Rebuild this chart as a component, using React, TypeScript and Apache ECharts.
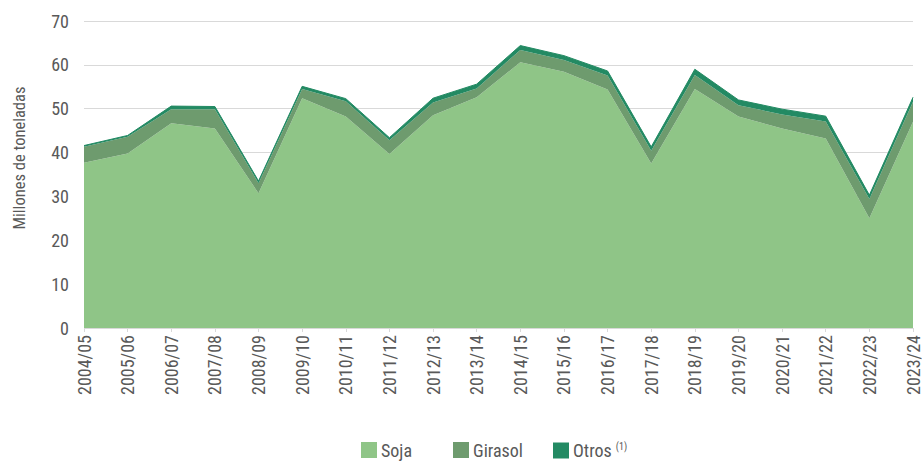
import React, { useEffect, useRef } from "react";
import * as echarts from "echarts";

const categories = [
  "2004/05", "2005/06", "2006/07", "2007/08", "2008/09", "2009/10", "2010/11",
  "2011/12", "2012/13", "2013/14", "2014/15", "2015/16", "2016/17", "2017/18",
  "2018/19", "2019/20", "2020/21", "2021/22", "2022/23", "2023/24",
];
const soja = [37.7, 39.8, 46.7, 45.5, 30.7, 52.4, 48.2, 39.7, 48.5, 52.6, 60.6, 58.4, 54.4, 37.5, 54.5, 48.2, 45.5, 43.2, 25.0, 47.0];
const girasol = [3.6, 3.8, 3.2, 4.4, 2.3, 2.1, 3.5, 3.1, 2.9, 2.0, 2.8, 2.7, 3.2, 2.9, 3.2, 2.6, 3.2, 3.9, 4.4, 4.6];
const otros = [0.3, 0.3, 0.7, 0.6, 0.5, 0.6, 0.6, 0.6, 1.0, 1.0, 1.0, 1.0, 1.0, 0.9, 1.3, 1.2, 1.2, 1.2, 0.9, 1.0];
const yTicks = { min: 0, max: 70, interval: 10 };
const seriesNames = ["Soja", "Girasol", "Otros"];

const FONT = "'Liberation Sans Narrow', 'Roboto Condensed', Roboto, sans-serif";
const TEXT = "#595959";

export default function App() {
  const ref = useRef<HTMLDivElement>(null);
  useEffect(() => {
    if (!ref.current) return;
    const chart = echarts.init(ref.current, null, { renderer: "svg" });
    const area = (name: string, data: number[], color: string, lw: number) => ({
      name,
      type: "line",
      stack: "total",
      data,
      symbol: "none",
      lineStyle: { width: lw, color },
      itemStyle: { color },
      areaStyle: { color, opacity: 1 },
    });
    const legendLefts = [361, 453, 553];
    const legends = seriesNames.map((n, i) => ({
      top: 441,
      left: legendLefts[i],
      padding: 0,
      itemWidth: 16,
      itemHeight: 16,
      itemGap: 0,
      icon: "rect",
      textStyle: {
        fontFamily: FONT,
        fontSize: 18,
        color: TEXT,
        padding: [0, 0, 0, -1],
        rich: { sup: { fontSize: 10, color: TEXT, fontFamily: FONT, verticalAlign: "top", padding: [0, 0, 9, 0] } },
      },
      formatter: (s: string) => (s === "Otros" ? "Otros {sup|(1)}" : s),
      data: [n],
    }));
    chart.setOption({
      animation: false,
      textStyle: { fontFamily: FONT },
      grid: { left: 84, right: 5, top: 21, bottom: 135 },
      legend: legends,
      xAxis: {
        type: "category",
        data: categories,
        boundaryGap: false,
        axisLine: { show: false },
        axisTick: { show: true, alignWithLabel: true, length: 4, lineStyle: { color: "#d9d9d9" } },
        axisLabel: { rotate: 90, margin: 7, fontSize: 18, color: TEXT, fontFamily: FONT, interval: 0 },
      },
      yAxis: {
        type: "value",
        min: yTicks.min,
        max: yTicks.max,
        interval: yTicks.interval,
        axisLine: { show: false },
        axisTick: { show: false },
        splitLine: { lineStyle: { color: "#d9d9d9", width: 1 } },
        axisLabel: { fontSize: 18, color: TEXT, fontFamily: FONT, margin: 15, padding: [0, 0, 6, 0] },
      },
      graphic: [
        {
          type: "text",
          x: 19,
          y: 158,
          rotation: Math.PI / 2,
          style: {
            text: "Millones de toneladas",
            fill: TEXT,
            fontSize: 16.5,
            fontFamily: FONT,
            align: "center",
            verticalAlign: "middle",
          },
        },
      ],
      series: [
        area(seriesNames[0], soja, "#8fc587", 0),
        area(seriesNames[1], girasol, "#6e9b6e", 0),
        area(seriesNames[2], otros, "#238a63", 1),
      ],
    });
    return () => chart.dispose();
  }, []);
  return <div ref={ref} style={{ width: 922, height: 463, position: "absolute", left: 0, top: 0 }} />;
}
